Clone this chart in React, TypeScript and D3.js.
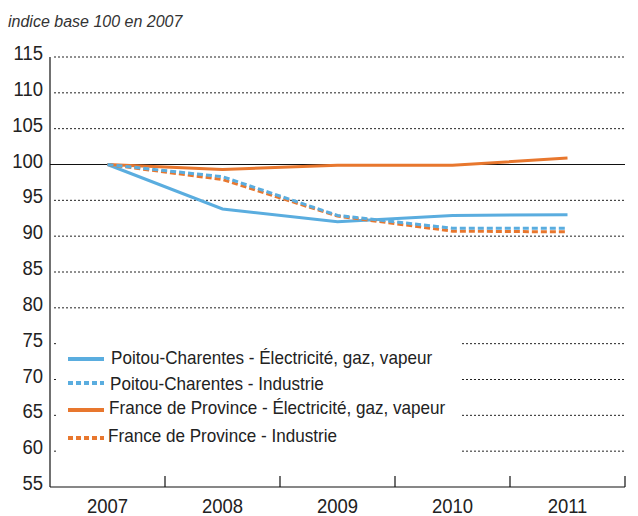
import React, { useEffect, useRef } from 'react';
import * as d3 from 'd3';

const years = ['2007', '2008', '2009', '2010', '2011'];
const yTicks = [55, 60, 65, 70, 75, 80, 85, 90, 95, 100, 105, 110, 115];

const pcElec = [100, 93.8, 92.0, 92.9, 93.0];
const pcIndus = [100, 98.3, 92.9, 91.1, 91.1];
const frElec = [100, 99.3, 99.9, 99.9, 100.9];
const frIndus = [100, 97.9, 92.8, 90.7, 90.6];

const seriesNames = [
  'Poitou-Charentes - Électricité, gaz, vapeur',
  'Poitou-Charentes - Industrie',
  'France de Province - Électricité, gaz, vapeur',
  'France de Province - Industrie',
];

const BLUE = '#5aaddf';
const ORANGE = '#e8772e';
const FONT = '"Liberation Sans", Arial, sans-serif';
const NARROW = 0.88; // reference fonts are condensed

export default function App() {
  const svgRef = useRef<SVGSVGElement>(null);
  const width = 638;
  const height = 516;

  useEffect(() => {
    if (!svgRef.current) return;
    const svg = d3.select(svgRef.current);
    svg.selectAll('*').remove();

    const left = 50, right = 625, top = 57, bottom = 487;

    const x = d3.scaleBand().domain(years).range([left, right]).padding(0);
    const y = d3.scaleLinear().domain([55, 115]).range([bottom, top]);
    const cx = (d: string) => x(d)! + x.bandwidth() / 2;

    // title
    svg.append('text')
      .attr('x', 8)
      .attr('y', 27)
      .style('font-family', FONT)
      .style('font-style', 'italic')
      .style('font-size', '16px')
      .style('fill', '#333')
      .text('indice base 100 en 2007');

    // grid
    svg.append('g')
      .selectAll('line')
      .data(yTicks.filter(t => t !== 55 && t !== 100))
      .enter()
      .append('line')
      .attr('x1', left + 4)
      .attr('x2', right)
      .attr('y1', d => y(d))
      .attr('y2', d => y(d))
      .attr('stroke', '#222')
      .attr('stroke-width', 1)
      .attr('stroke-dasharray', '2,2');

    svg.append('line')
      .attr('x1', left).attr('x2', right)
      .attr('y1', y(100)).attr('y2', y(100))
      .attr('stroke', '#111').attr('stroke-width', 1.2);

    // y labels
    svg.append('g')
      .selectAll('text')
      .data(yTicks)
      .enter()
      .append('text')
      .attr('transform', d => `translate(43,${y(d) + 3}) scale(${NARROW},1)`)
      .attr('text-anchor', 'end')
      .style('font-family', FONT)
      .style('font-size', '21px')
      .style('fill', '#222')
      .text(d => d);

    // axes
    svg.append('line')
      .attr('x1', left).attr('x2', left)
      .attr('y1', top).attr('y2', bottom)
      .attr('stroke', '#111').attr('stroke-width', 1.2);
    svg.append('line')
      .attr('x1', left).attr('x2', right)
      .attr('y1', bottom).attr('y2', bottom)
      .attr('stroke', '#111').attr('stroke-width', 1.2);
    svg.append('g')
      .selectAll('line')
      .data(years)
      .enter()
      .append('line')
      .attr('x1', d => x(d)! + x.bandwidth())
      .attr('x2', d => x(d)! + x.bandwidth())
      .attr('y1', bottom - 11)
      .attr('y2', bottom)
      .attr('stroke', '#111').attr('stroke-width', 1.2);
    svg.append('g')
      .selectAll('text')
      .data(years)
      .enter()
      .append('text')
      .attr('transform', d => `translate(${cx(d)},${bottom + 26}) scale(${NARROW},1)`)
      .attr('text-anchor', 'middle')
      .style('font-family', FONT)
      .style('font-size', '21px')
      .style('fill', '#222')
      .text(d => d);

    // lines
    const series = [
      { values: pcElec, color: BLUE, dash: null },
      { values: frElec, color: ORANGE, dash: null },
      { values: frIndus, color: ORANGE, dash: '6,3' },
      { values: pcIndus, color: BLUE, dash: '6,3' },
    ];
    const line = d3.line<number>()
      .x((_d, i) => cx(years[i]))
      .y(d => y(d));
    series.forEach(s => {
      svg.append('path')
        .attr('d', line(s.values)!)
        .attr('fill', 'none')
        .attr('stroke', s.color)
        .attr('stroke-width', 3)
        .attr('stroke-dasharray', s.dash ?? null);
    });

    // legend
    const legend = svg.append('g');
    legend.append('rect')
      .attr('x', 58).attr('y', 336)
      .attr('width', 404).attr('height', 120)
      .attr('fill', '#fff');
    const legendItems = [
      { name: seriesNames[0], color: BLUE, dash: null },
      { name: seriesNames[1], color: BLUE, dash: '5,3' },
      { name: seriesNames[2], color: ORANGE, dash: null },
      { name: seriesNames[3], color: ORANGE, dash: '5,3' },
    ];
    const sampleY = [359, 383, 410, 438];
    const textY = [364, 390, 414, 442];
    const textX = [111, 110, 109, 108];
    legendItems.forEach((d, i) => {
      legend.append('line')
        .attr('x1', 68).attr('x2', 104)
        .attr('y1', sampleY[i]).attr('y2', sampleY[i])
        .attr('stroke', d.color)
        .attr('stroke-width', 4)
        .attr('stroke-dasharray', d.dash ?? null);
      legend.append('text')
        .attr('transform', `translate(${textX[i]},${textY[i]}) scale(0.95,1)`)
        .style('font-family', FONT)
        .style('font-size', '18px')
        .style('fill', '#222')
        .text(d.name);
    });
  }, []);

  return (
    <svg
      ref={svgRef}
      width={width}
      height={height}
      style={{ position: 'absolute', left: 0, top: 0, background: '#fff' }}
    />
  );
}
